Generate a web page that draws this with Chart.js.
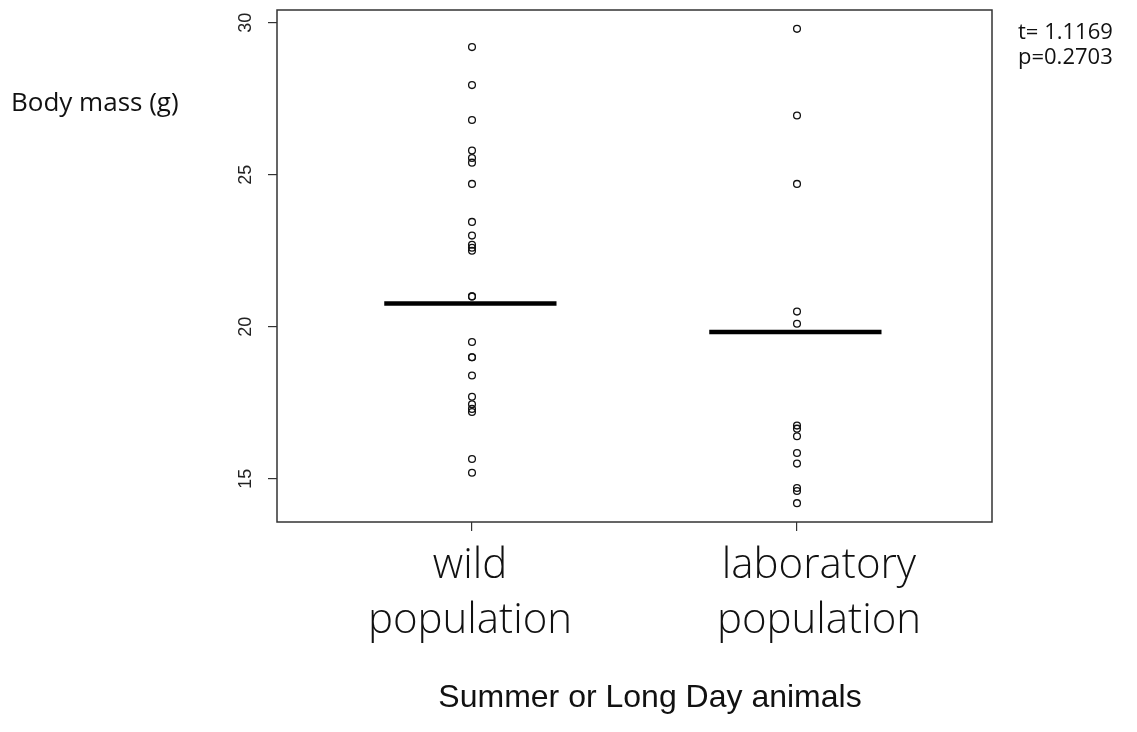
<!DOCTYPE html>
<html>
<head>
<meta charset="utf-8">
<script src="https://cdn.jsdelivr.net/npm/chart.js@4/dist/chart.umd.min.js"></script>
<style>
  html, body { margin: 0; padding: 0; background: #fff; }
  #wrap { position: relative; width: 1137px; height: 732px; }
</style>
</head>
<body>
<div id="wrap"><canvas id="mass-chart"></canvas></div>
<script>
// groups on the x axis
var groups = [1, 2];
var groupNames = [["wild", "population"], ["laboratory", "population"]];

// body mass (g)
var wildMass = [29.2, 27.95, 26.8, 25.8, 25.55, 25.4, 24.7, 23.45, 23.0, 22.7, 22.6, 22.5,
                21.0, 21.0, 19.5, 19.0, 19.0, 18.4, 17.7, 17.45, 17.3, 17.2, 15.65, 15.2];
var labMass = [29.8, 26.95, 24.7, 20.5, 20.1, 16.75, 16.65, 16.4, 15.85, 15.5, 14.7, 14.6, 14.2];

// horizontal bars drawn across each group
var groupMeans = [20.77, 19.83];

var yTicks = [15, 20, 25, 30];
var statText = ["t= 1.1169", "p=0.2703"];

function strip(x, vals) {
    return vals.map(function (v) { return { x: x, y: v }; });
}
function bar(x, v) {
    return [{ x: x - 0.27, y: v }, { x: x + 0.26, y: v }];
}

var extraText = {
    id: "extraText",
    afterDraw: function (chart) {
        var ctx = chart.ctx, a = chart.chartArea;
        var xs = chart.scales.x, ys = chart.scales.y;
        ctx.save();
        // box round the plot
        ctx.strokeStyle = "#333";
        ctx.lineWidth = 1.5;
        ctx.strokeRect(a.left, a.top, a.right - a.left, a.bottom - a.top);

        // rotated y tick labels
        ctx.fillStyle = "#222";
        ctx.font = "18px 'Liberation Sans'";
        ctx.textAlign = "center";
        ctx.textBaseline = "middle";
        yTicks.forEach(function (t) {
            ctx.save();
            ctx.translate(246, ys.getPixelForValue(t));
            ctx.rotate(-Math.PI / 2);
            ctx.fillText(String(t), 0, 0);
            ctx.restore();
        });

        // group labels
        ctx.fillStyle = "#111";
        ctx.font = "300 42px 'Open Sans'";
        var shift = [-2, 22];
        groups.forEach(function (g, i) {
            var cx = xs.getPixelForValue(g) + shift[i];
            ctx.fillText(groupNames[i][0], cx, 566);
            ctx.fillText(groupNames[i][1], cx, 621);
        });

        ctx.font = "32px 'Liberation Sans'";
        ctx.fillText("Summer or Long Day animals", 650, 698);

        ctx.textAlign = "left";
        ctx.font = "26px 'Open Sans'";
        ctx.fillText("Body mass (g)", 11, 104);
        ctx.font = "22px 'Open Sans'";
        ctx.fillText(statText[0], 1018, 33);
        ctx.fillText(statText[1], 1018, 58);
        ctx.restore();
    }
};

new Chart(document.getElementById("mass-chart"), {
    type: "scatter",
    data: {
        datasets: [{
            data: strip(groups[0], wildMass),
            borderColor: "#111",
            backgroundColor: "rgba(0,0,0,0)",
            pointRadius: 3.4,
            borderWidth: 1.3
        }, {
            data: strip(groups[1], labMass),
            borderColor: "#111",
            backgroundColor: "rgba(0,0,0,0)",
            pointRadius: 3.4,
            borderWidth: 1.3
        }, {
            type: "line",
            data: bar(groups[0], groupMeans[0]),
            borderColor: "#000",
            borderWidth: 4.5,
            pointRadius: 0
        }, {
            type: "line",
            data: bar(groups[1], groupMeans[1]),
            borderColor: "#000",
            borderWidth: 4.5,
            pointRadius: 0
        }]
    },
    options: {
        responsive: true,
        maintainAspectRatio: false,
        animation: false,
        layout: { padding: { top: 10, right: 145, left: 0, bottom: 0 } },
        plugins: { legend: { display: false }, tooltip: { enabled: false } },
        scales: {
            x: {
                type: "linear",
                min: 0.4,
                max: 2.6,
                afterBuildTicks: function (s) { s.ticks = groups.map(function (g) { return { value: g }; }); },
                afterFit: function (s) { s.height = 210; },
                ticks: { display: false },
                border: { display: false },
                grid: { drawOnChartArea: false, drawTicks: true, tickLength: 9, color: "#333", lineWidth: 1.2 }
            },
            y: {
                min: 13.58,
                max: 30.42,
                afterBuildTicks: function (s) { s.ticks = yTicks.map(function (t) { return { value: t }; }); },
                afterFit: function (s) { s.width = 277; },
                ticks: { display: false },
                border: { display: false },
                grid: { drawOnChartArea: false, drawTicks: true, tickLength: 9, color: "#333", lineWidth: 1.2 }
            }
        }
    },
    plugins: [extraText]
});
</script>
</body>
</html>
